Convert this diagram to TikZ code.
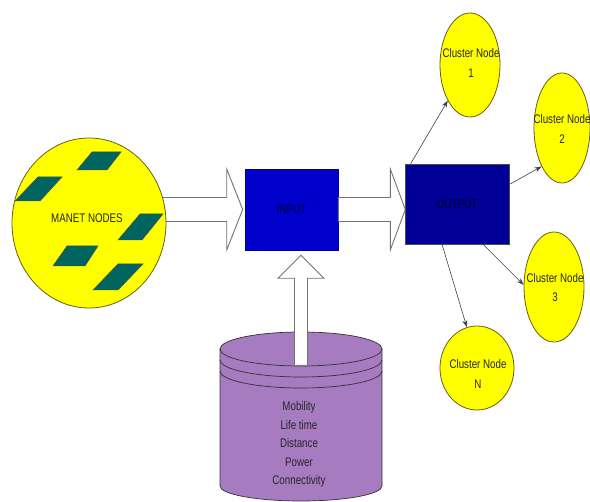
\documentclass[tikz,border=0pt]{standalone}
\usepackage{fontspec}
\newfontfamily\lblfont[FakeStretch=0.78]{Liberation Sans}
\usetikzlibrary{arrows.meta,calc,shapes.geometric}

\definecolor{nodeyellow}{RGB}{255,255,0}
\definecolor{rimolive}{RGB}{105,95,20}
\definecolor{tealtile}{RGB}{0,100,95}
\definecolor{inblue}{RGB}{0,0,205}
\definecolor{outblue}{RGB}{0,0,150}
\definecolor{drum}{RGB}{166,123,192}
\definecolor{arrowgray}{RGB}{115,115,115}

\begin{document}
\begin{tikzpicture}[x=1pt,y=-1pt,
  lbl/.style={font=\lblfont\fontsize{12.5}{19.5}\selectfont, align=center, inner sep=0pt},
  bubble/.style={ellipse, draw=rimolive, line width=0.8pt, fill=nodeyellow, inner sep=0pt},
  stagebox/.style={rectangle, inner sep=0pt, line width=0.6pt},
  blockarrow/.style={draw=arrowgray, fill=white, line width=0.9pt, line join=miter},
  link/.style={draw=black!75, line width=0.6pt, -{Stealth[length=7pt,width=5pt]}},
  tile/.style={fill=tealtile, draw=black!70, line width=0.5pt}]

\useasboundingbox (0,0) rectangle (590,502);

% INPUT stage
\node[stagebox, fill=inblue, draw=blue!60!black, minimum width=93pt, minimum height=81pt,
      lbl, text=black!80!blue] (in) at (291.5,209.5) {INPUT};

% wide arrow from the MANET area into INPUT (its tail hides under the circle)
\coordinate (a1tip) at ($(in.west)+(-2,0)$);
\draw[blockarrow] (a1tip) -- ++(-16,-40.5) -- ++(0,28.5) -- ++(-80,0) -- ++(0,24)
   -- ++(80,0) -- ++(0,28.5) -- cycle;

% wide arrow from INPUT into OUTPUT
\coordinate (a2tail) at (in.east);
\draw[blockarrow] ($(a2tail)+(0,-12)$) -- ++(52,0) -- ++(0,-28.5) -- ++(15,40.5)
   -- ++(-15,40.5) -- ++(0,-28.5) -- ++(-52,0) -- cycle;

% OUTPUT stage
\node[stagebox, fill=outblue, draw=black!70, minimum width=104pt, minimum height=80pt,
      lbl, text=black!85!blue] (out) at (457,204) {OUTPUT};

% MANET area with its mobile nodes
\node[ellipse, draw=rimolive, line width=0.8pt, fill=nodeyellow, inner sep=0pt,
      minimum width=154pt, minimum height=170pt] (manet) at (89,223) {};
\fill[tile] (77,170) -- (92,152) -- (121,152) -- (107,170) -- cycle;
\fill[tile] (15,201) -- (38,177) -- (62,177) -- (40,201) -- cycle;
\fill[tile] (118,240) -- (140,214) -- (163,214) -- (142,240) -- cycle;
\fill[tile] (53,266) -- (67,246) -- (98,246) -- (85,266) -- cycle;
\fill[tile] (93,290) -- (118,264) -- (143,264) -- (118,290) -- cycle;
\node[lbl, text=black!85] (manetlbl) at (87,218) {MANET NODES};

% parameter store (cylinder)
\coordinate (drumtop) at (301,349);
\path[fill=drum, draw=black!80, line width=0.7pt]
  (220,349) -- (220,486) arc[start angle=180, end angle=0, x radius=81, y radius=15]
  -- (382,349) arc[start angle=0, end angle=-180, x radius=81, y radius=17] -- cycle;
\draw[black!80, line width=0.7pt] (220,349) arc[start angle=180, end angle=0, x radius=81, y radius=17];
\draw[black!80, line width=0.7pt] (220,360) arc[start angle=180, end angle=0, x radius=81, y radius=17];
\draw[black!80, line width=0.7pt] (220,371) arc[start angle=180, end angle=0, x radius=81, y radius=17];
\node[lbl, font=\lblfont\fontsize{12.5}{18.6}\selectfont, text=black!85] (params) at (299,444.5)
  {Mobility\\Life time\\Distance\\Power\\Connectivity};

% wide arrow from the store up into INPUT
\coordinate (a3tip) at ($(drumtop |- in.south)+(0,5)$);
\draw[blockarrow] (a3tip) -- ++(23,23) -- ++(-16.5,0) -- ++(0,87) -- ++(-13,0)
   -- ++(0,-87) -- ++(-16.5,0) -- cycle;

% resulting clusters
\node[bubble, minimum width=60pt, minimum height=104pt] (c1) at (470,65) {};
\node[bubble, minimum width=56pt, minimum height=110pt] (c2) at (562,128) {};
\node[bubble, minimum width=60pt, minimum height=110pt] (c3) at (554,287) {};
\node[bubble, minimum width=74pt, minimum height=84pt] (cN) at (477,368) {};
\node[lbl, text=black!85] (t1) at (471,63) {Cluster Node\\1};
\node[lbl, text=black!85] (t2) at (562,129) {Cluster Node\\2};
\node[lbl, text=black!85] (t3) at (555,287.5) {Cluster Node\\3};
\node[lbl, text=black!85] (tN) at (478,374) {Cluster Node\\N};

\draw[link] ($(out.north west)+(6,0)$) -- (c1.238);
\draw[link] ($(out.east)+(1,-20)$) -- (c2.242);
\draw[link] ($(out.south)+(26,0)$) -- (c3.176);
\draw[link] ($(out.south)+(-15,0)$) -- (cN.104);
\end{tikzpicture}
\end{document}
